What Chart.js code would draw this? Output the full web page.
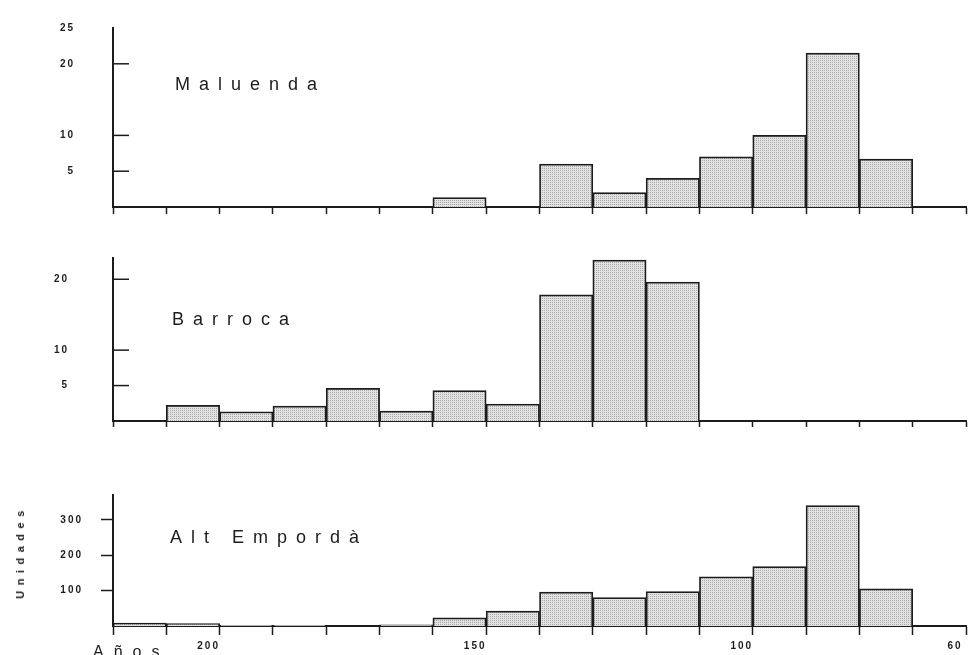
<!DOCTYPE html>
<html>
<head>
<meta charset="utf-8">
<script src="https://cdn.jsdelivr.net/npm/chart.js@4.4.1/dist/chart.umd.min.js"></script>
<style>
body { margin:0; width:971px; height:655px; overflow:hidden; background:#fff; position:relative;
       font-family:"Liberation Sans", Arial, sans-serif; color:#1c1c1c; }
.panel { position:absolute; left:0; width:1000px; }
.name { position:absolute; font-size:18px; line-height:18px; letter-spacing:9px; white-space:nowrap; }
</style>
</head>
<body>
<div class="panel" style="top:0;height:240px"><canvas id="maluenda"></canvas></div>
<div class="panel" style="top:230px;height:210px"><canvas id="barroca"></canvas></div>
<div class="panel" style="top:460px;height:195px"><canvas id="alt"></canvas></div>

<div class="name" style="left:175px;top:75px">Maluenda</div>
<div class="name" style="left:172px;top:310px">Barroca</div>
<div class="name" style="left:170px;top:528px">Alt Empordà</div>
<div class="name" style="left:93px;top:644px;font-size:16px;line-height:16px;letter-spacing:10px">Años</div>
<div style="position:absolute;left:20px;top:552px;transform:translate(-50%,-50%) rotate(-90deg);
            font-size:11px;font-weight:bold;letter-spacing:5.5px;white-space:nowrap">Unidades</div>

<script>
// bin centres, 10-year classes from 220 down to 60
const bins = [215, 205, 195, 185, 175, 165, 155, 145, 135, 125, 115, 105, 95, 85, 75, 65];
const maluenda = [0, 0, 0, 0, 0, 0, 1.3, 0, 6, 2, 4, 7, 10, 21.5, 6.7, 0];
const barroca = [0, 2.2, 1.3, 2.1, 4.6, 1.4, 4.3, 2.4, 17.8, 22.7, 19.6, 0, 0, 0, 0, 0];
const altEmporda = [8, 7, 2, 2, 0, 3, 23, 42, 96, 80, 97, 139, 168, 340, 105, 0];

const xLabels = [200, 150, 100, 60];
const yTicksMaluenda = [25, 20, 10, 5];
const yMarksMaluenda = [20, 10, 5];
const yTicksBarroca = [20, 10, 5];
const yTicksAlt = [300, 200, 100];

const ink = '#1c1c1c';

function dotPattern() {
    const c = document.createElement('canvas');
    c.width = 2; c.height = 2;
    const g = c.getContext('2d');
    g.fillStyle = '#e2e2e2';
    g.fillRect(0, 0, 2, 2);
    g.fillStyle = '#a9a9a9';
    g.fillRect(0, 0, 1, 1);
    return g.createPattern(c, 'repeat');
}
const fill = dotPattern();

// y tick marks that point into the plot
const innerMarks = {
    id: 'innerMarks',
    afterDraw(chart, args, opts) {
        if (!opts.values) return;
        const y = chart.scales.y;
        const ctx = chart.ctx;
        ctx.save();
        ctx.strokeStyle = ink;
        ctx.lineWidth = 1.5;
        opts.values.forEach(v => {
            const py = y.getPixelForValue(v);
            ctx.beginPath();
            ctx.moveTo(y.right, py);
            ctx.lineTo(y.right + opts.length, py);
            ctx.stroke();
        });
        ctx.restore();
    }
};

const spacing = {
    id: 'spacing',
    beforeDraw(chart) { chart.ctx.letterSpacing = '2px'; }
};

function makeChart(id, values, o)
{
    return new Chart(document.getElementById(id), {
        type: 'bar',
        data: {
            datasets: [{
                data: bins.map((b, i) => ({x: b, y: values[i]})),
                backgroundColor: fill,
                borderColor: ink,
                borderWidth: 1.75,
                borderSkipped: 'start',
                barPercentage: 1,
                categoryPercentage: 1
            }]
        },
        options: {
            responsive: true,
            maintainAspectRatio: false,
            animation: false,
            layout: { padding: { top: o.top, right: 34, left: 0, bottom: 0 } },
            plugins: {
                legend: { display: false },
                tooltip: { enabled: false },
                innerMarks: { values: o.marks, length: 16 }
            },
            scales: {
                x: {
                    type: 'linear',
                    reverse: true,
                    min: 60,
                    max: 220,
                    offset: false,
                    ticks: {
                        stepSize: 10,
                        autoSkip: false,
                        maxRotation: 0,
                        display: o.showX,
                        labelOffset: -11,
                        padding: 5,
                        color: ink,
                        font: { size: 10, weight: 'bold', family: 'Liberation Sans' },
                        callback: v => xLabels.includes(v) ? String(v) : ''
                    },
                    grid: { drawOnChartArea: false, offset: false, tickLength: o.xTick, tickWidth: 1.5, tickColor: ink },
                    border: { color: ink, width: 2 },
                    afterFit: s => { s.height = o.xh; }
                },
                y: {
                    min: 0,
                    max: o.max,
                    afterBuildTicks: s => { s.ticks = o.yTicks.map(v => ({value: v})); },
                    ticks: {
                        padding: o.yPad,
                        color: ink,
                        font: { size: 10, weight: 'bold', family: 'Liberation Sans' }
                    },
                    // outer marks only on the bottom panel; elsewhere the tick length just spaces the labels
                    grid: { drawOnChartArea: false, tickLength: o.yGap, tickWidth: 1.5,
                            tickColor: o.outer ? ink : 'rgba(0,0,0,0)' },
                    border: { color: ink, width: 2 },
                    afterFit: s => { s.width = 113; }
                }
            }
        },
        plugins: [innerMarks, spacing]
    });
}

makeChart('maluenda', maluenda, {
    top: 28, xh: 33, max: 25, yTicks: yTicksMaluenda, marks: yMarksMaluenda,
    yGap: 34, yPad: 4, outer: false, showX: false, xTick: 7
});
makeChart('barroca', barroca, {
    top: 28, xh: 19, max: 23, yTicks: yTicksBarroca, marks: yTicksBarroca,
    yGap: 40, yPad: 4, outer: false, showX: false, xTick: 6
});
makeChart('alt', altEmporda, {
    top: 35, xh: 29, max: 370, yTicks: yTicksAlt, marks: null,
    yGap: 12, yPad: 18, outer: true, showX: true, xTick: 9
});
</script>
</body>
</html>
